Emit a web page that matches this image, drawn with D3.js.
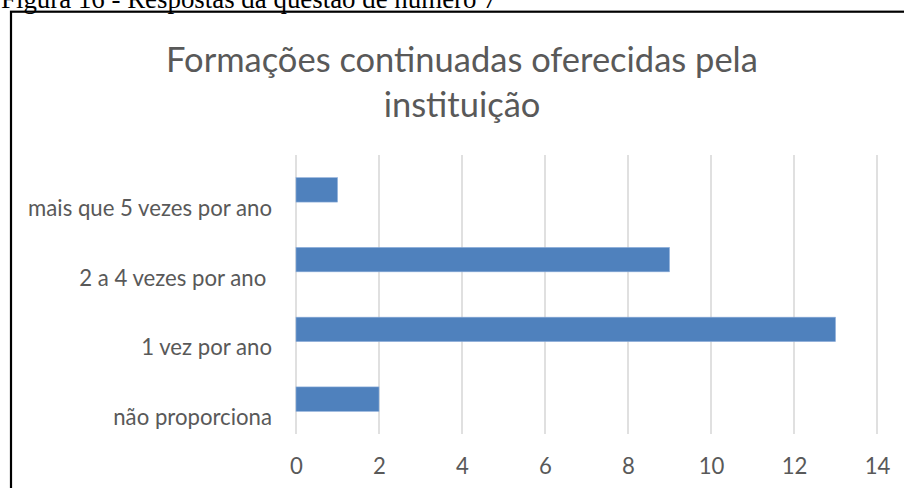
<!DOCTYPE html>
<html>
<head>
<meta charset="utf-8">
<script src="https://cdn.jsdelivr.net/npm/d3@7"></script>
<style>
  html, body { margin: 0; padding: 0; background: #fff; }
  svg { display: block; }
  text { white-space: pre; }
</style>
</head>
<body>
<svg id="chart" width="904" height="488"></svg>
<script>
// ---- data ----
const caption = "Figura 16 - Respostas da questão de número 7";
const titleLines = ["Formações continuadas oferecidas pela", "instituição"];
const categories = ["mais que 5 vezes por ano", "2 a 4 vezes por ano ", "1 vez por ano", "não proporciona"];
const values = [1, 9, 13, 2];
const xTicks = [0, 2, 4, 6, 8, 10, 12, 14];

// ---- drawing ----
const svg = d3.select("#chart");
const FONT = "Lato, 'Open Sans', sans-serif";
const GRAY = "#595959";

function fit(sel, target) {
  sel.attr("font-size", 100);
  const w = sel.node().getComputedTextLength();
  const s = 100 * target / w;
  sel.attr("font-size", s);
  return s;
}

// caption above the chart frame
const cap = svg.append("text")
  .attr("x", 1).attr("y", 8)
  .attr("font-family", "'Liberation Serif', 'Times New Roman', serif")
  .attr("fill", "#000")
  .text(caption);
fit(cap, 496);

// chart frame
svg.append("rect")
  .attr("x", 11).attr("y", 11.7)
  .attr("width", 910).attr("height", 500)
  .attr("fill", "none")
  .attr("stroke", "#000")
  .attr("stroke-width", 2.2);

// title
const titleCx = 462;
const t1 = svg.append("text")
  .attr("x", titleCx).attr("y", 72)
  .attr("text-anchor", "middle")
  .attr("font-family", FONT)
  .attr("fill", GRAY)
  .text(titleLines[0]);
const tSize = fit(t1, 592);
svg.append("text")
  .attr("x", titleCx).attr("y", 117)
  .attr("text-anchor", "middle")
  .attr("font-family", FONT)
  .attr("font-size", tSize)
  .attr("fill", GRAY)
  .text(titleLines[1]);

// scales
const x = d3.scaleLinear().domain([0, 14]).range([296, 877]);
const y = d3.scaleBand().domain(categories).range([155, 434])
  .paddingInner(0.65).paddingOuter(0.325);

// label font size from the widest category label
const probe = svg.append("text").attr("font-family", FONT).text(categories[0]);
const lSize = fit(probe, 244);
probe.remove();

// gridlines
svg.append("g").selectAll("line")
  .data(xTicks)
  .join("line")
  .attr("x1", d => x(d)).attr("x2", d => x(d))
  .attr("y1", 155).attr("y2", 434)
  .attr("stroke", "#d9d9d9")
  .attr("stroke-width", 1.6);

// bars
svg.append("g").selectAll("rect")
  .data(categories)
  .join("rect")
  .attr("x", x(0))
  .attr("y", d => y(d))
  .attr("width", (d, i) => x(values[i]) - x(0))
  .attr("height", y.bandwidth())
  .attr("fill", "#4f81bd")
  .attr("stroke", "#8eaedb")
  .attr("stroke-width", 0.6);

// category labels (offset below band centre as in the reference)
svg.append("g").selectAll("text")
  .data(categories)
  .join("text")
  .attr("x", 272)
  .attr("y", d => y(d) + y.bandwidth() / 2 + 26)
  .attr("text-anchor", "end")
  .attr("font-family", FONT)
  .attr("font-size", lSize)
  .attr("fill", GRAY)
  .text(d => d);

// x axis tick labels
const axis = svg.append("g")
  .attr("transform", "translate(0,434)")
  .call(d3.axisBottom(x).tickValues(xTicks).tickSize(0).tickPadding(0).tickFormat(d3.format("d")));
axis.select(".domain").remove();
axis.selectAll("text")
  .attr("y", 40)
  .attr("dy", null)
  .attr("font-family", FONT)
  .attr("font-size", lSize)
  .attr("fill", GRAY);
</script>
</body>
</html>
